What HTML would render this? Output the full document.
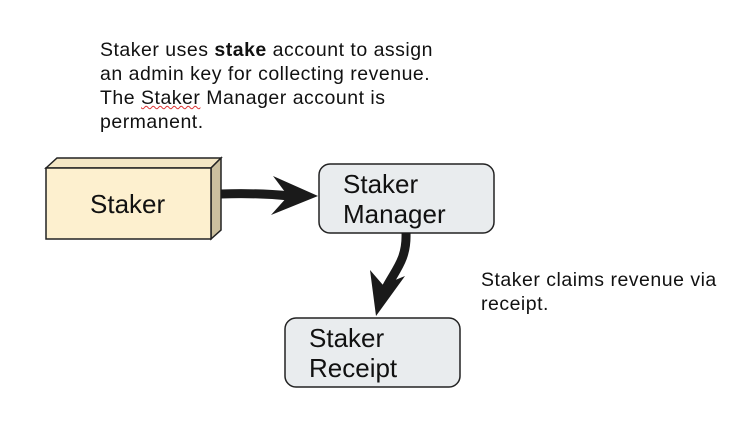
<!DOCTYPE html>
<html><head><style>
body{margin:0;width:752px;height:432px;background:#fff;position:relative;overflow:hidden;font-family:"Liberation Sans",sans-serif}
.t{position:absolute;font-size:19.5px;line-height:24px;letter-spacing:0.5px;color:#111;white-space:nowrap}
.n{position:absolute;font-size:26px;line-height:30px;color:#111}
</style></head><body>
<div class="t" style="left:100px;top:38px">Staker uses <b>stake</b> account to assign<br>an admin key for collecting revenue.<br>The <span style="text-decoration:underline wavy #d33;text-decoration-thickness:1px">Staker</span> Manager account is<br>permanent.</div>
<div class="t" style="left:481px;top:268px">Staker claims revenue via<br>receipt.</div>
<svg width="752" height="432" style="position:absolute;left:0;top:0">
<polygon points="46,168 57,158 221,158 211,168" fill="#f3e6c4" stroke="#222" stroke-width="1.5"/>
<polygon points="211,168 221,158 221,230 211,239" fill="#cbbf9e" stroke="#222" stroke-width="1.5"/>
<rect x="46" y="168" width="165" height="71" fill="#fdf0cf" stroke="#222" stroke-width="1.5"/>
<rect x="319" y="164" width="175" height="69" rx="11" fill="#e9ecee" stroke="#222" stroke-width="1.5"/>
<rect x="285" y="318" width="175" height="69" rx="11" fill="#e9ecee" stroke="#222" stroke-width="1.5"/>
<path d="M221,194 C250,193 270,194 290,196" stroke="#1a1a1a" stroke-width="9" fill="none"/>
<polygon points="318,196 273,176 288,196 271,215" fill="#1a1a1a"/>
<path d="M406,233 C407,260 395,270 385,290" stroke="#1a1a1a" stroke-width="9" fill="none"/>
<polygon points="376,316 370,270 383,285 405,276" fill="#1a1a1a"/>
</svg>
<div class="n" style="left:90px;top:189px">Staker</div>
<div class="n" style="left:343px;top:169px">Staker<br>Manager</div>
<div class="n" style="left:309px;top:323px">Staker<br>Receipt</div>
</body></html>
